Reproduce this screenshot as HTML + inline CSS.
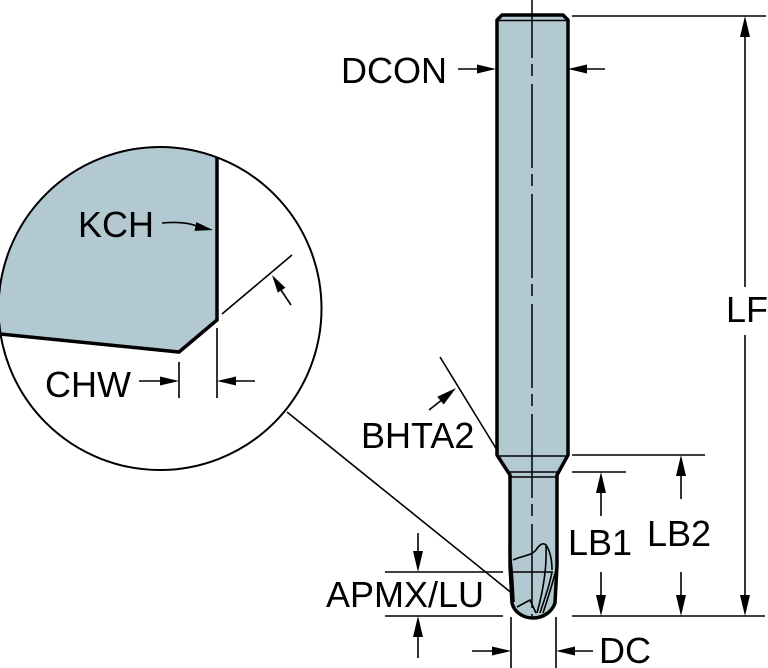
<!DOCTYPE html>
<html>
<head>
<meta charset="utf-8">
<style>
html,body{margin:0;padding:0;background:#fff;}
svg{display:block;}
text{font-family:"Liberation Sans",Arial,sans-serif;font-size:36px;fill:#000;}
</style>
</head>
<body>
<svg width="768" height="668" viewBox="0 0 768 668" xmlns="http://www.w3.org/2000/svg">
<defs>
<clipPath id="cc"><circle cx="160" cy="308.5" r="161.5"/></clipPath>
</defs>
<rect width="768" height="668" fill="#fff"/>

<!-- Detail circle -->
<circle cx="160" cy="308.5" r="161.5" fill="#fff"/>
<g clip-path="url(#cc)">
<polygon points="217,130 217,320 179,352 -10,333 -10,130" fill="#b3c9d1"/>
<polyline points="217,150 217,320 179,352 -10,333" fill="none" stroke="#000" stroke-width="3.5" stroke-linejoin="miter"/>
</g>
<circle cx="160" cy="308.5" r="161.5" fill="none" stroke="#000" stroke-width="2"/>

<!-- KCH -->
<text x="78" y="237">KCH</text>
<path d="M162,223 Q184,221 197,226" fill="none" stroke="#000" stroke-width="1.6"/>
<polygon points="213,230 194.5,230.9 196.3,222.1" fill="#000"/>

<!-- angle line in circle -->
<line x1="222" y1="314" x2="292" y2="255" stroke="#000" stroke-width="1.6"/>
<line x1="291" y1="305" x2="281" y2="290" stroke="#000" stroke-width="1.6"/>
<polygon points="272,275 285.4,287.8 277.8,292.6" fill="#000"/>

<!-- CHW -->
<line x1="179" y1="362" x2="179" y2="398" stroke="#000" stroke-width="1.6"/>
<line x1="217" y1="328" x2="217" y2="398" stroke="#000" stroke-width="1.6"/>
<line x1="139" y1="381" x2="163" y2="381" stroke="#000" stroke-width="1.6"/>
<polygon points="179,381 160,376.5 160,385.5" fill="#000"/>
<line x1="233" y1="381" x2="255" y2="381" stroke="#000" stroke-width="1.6"/>
<polygon points="217,381 236,376.5 236,385.5" fill="#000"/>
<text x="45" y="397">CHW</text>

<!-- leader line -->
<line x1="287" y1="412" x2="534" y2="611" stroke="#000" stroke-width="1.6"/>

<!-- Tool body -->
<path d="M497,20 L502,15 L563,15 L568,20 L568,455 L557,475 L557,565 L555,603 C552,612 543,618 533,618 C523,618 514,612 512,603 L510,565 L510,475 L497,455 Z" fill="#b3c9d1" stroke="#000" stroke-width="3.5" stroke-linejoin="round"/>
<line x1="498" y1="20.5" x2="567" y2="20.5" stroke="#000" stroke-width="1.5"/>
<line x1="498" y1="456" x2="567" y2="456" stroke="#000" stroke-width="1.5"/>
<line x1="509" y1="472" x2="558" y2="472" stroke="#000" stroke-width="1.5"/>
<line x1="510" y1="477" x2="557" y2="477" stroke="#000" stroke-width="1.5"/>

<!-- head flutes -->
<g fill="none" stroke="#000" stroke-width="1.6">
<path d="M513,560 C521,556 531,556 536,550 C539,545 543,542 546,545 C550,551 552,560 552,570"/>
<path d="M546,546 C547,570 542,595 537,613"/>
<path d="M557,566 C553,582 548,598 543,613"/>
<path d="M552,572 C549,588 544,600 540,613"/>
<path d="M509,546 C512,562 513,582 514,602"/>
<line x1="510" y1="572" x2="553" y2="572"/>
<path d="M517,607 L530,600 L536,613"/>
</g>

<!-- centerline -->
<line x1="532" y1="0" x2="532" y2="617" stroke="#000" stroke-width="1.5" stroke-dasharray="84 6 12 8" stroke-dashoffset="26"/>

<!-- DCON -->
<text x="341" y="83">DCON</text>
<line x1="458" y1="69" x2="480" y2="69" stroke="#000" stroke-width="1.6"/>
<polygon points="496,69 477,64.5 477,73.5" fill="#000"/>
<line x1="584" y1="69" x2="605" y2="69" stroke="#000" stroke-width="1.6"/>
<polygon points="568,69 587,64.5 587,73.5" fill="#000"/>

<!-- LF -->
<line x1="572" y1="16" x2="766" y2="16" stroke="#000" stroke-width="1.6"/>
<line x1="745" y1="30" x2="745" y2="287" stroke="#000" stroke-width="1.6"/>
<line x1="745" y1="335" x2="745" y2="600" stroke="#000" stroke-width="1.6"/>
<polygon points="745,16 740,37 750,37" fill="#000"/>
<polygon points="745,616 740,595 750,595" fill="#000"/>
<text x="726" y="322">LF</text>

<!-- LB1 / LB2 -->
<line x1="572" y1="455" x2="705" y2="455" stroke="#000" stroke-width="1.6"/>
<line x1="572" y1="472" x2="626" y2="472" stroke="#000" stroke-width="1.6"/>
<line x1="572" y1="616" x2="765" y2="616" stroke="#000" stroke-width="1.6"/>

<line x1="601" y1="485" x2="601" y2="516" stroke="#000" stroke-width="1.6"/>
<polygon points="601,472 596,493 606,493" fill="#000"/>
<line x1="601" y1="572" x2="601" y2="600" stroke="#000" stroke-width="1.6"/>
<polygon points="601,616 596,595 606,595" fill="#000"/>
<text x="568" y="555">LB1</text>

<line x1="681" y1="468" x2="681" y2="499" stroke="#000" stroke-width="1.6"/>
<polygon points="681,455 676,476 686,476" fill="#000"/>
<line x1="681" y1="572" x2="681" y2="600" stroke="#000" stroke-width="1.6"/>
<polygon points="681,616 676,595 686,595" fill="#000"/>
<text x="647" y="546">LB2</text>

<!-- DC -->
<line x1="511" y1="617" x2="511" y2="668" stroke="#000" stroke-width="1.6"/>
<line x1="556" y1="617" x2="556" y2="668" stroke="#000" stroke-width="1.6"/>
<line x1="472" y1="651" x2="495" y2="651" stroke="#000" stroke-width="1.6"/>
<polygon points="511,651 492,646.5 492,655.5" fill="#000"/>
<line x1="572" y1="651" x2="593" y2="651" stroke="#000" stroke-width="1.6"/>
<polygon points="556,651 575,646.5 575,655.5" fill="#000"/>
<text x="599" y="663">DC</text>

<!-- APMX/LU -->
<line x1="385" y1="572" x2="503" y2="572" stroke="#000" stroke-width="1.6"/>
<line x1="385" y1="616" x2="503" y2="616" stroke="#000" stroke-width="1.6"/>
<line x1="418" y1="533" x2="418" y2="556" stroke="#000" stroke-width="1.6"/>
<polygon points="418,572 413,551 423,551" fill="#000"/>
<line x1="418" y1="632" x2="418" y2="658" stroke="#000" stroke-width="1.6"/>
<polygon points="418,616 413,637 423,637" fill="#000"/>
<text x="326" y="607">APMX/LU</text>

<!-- BHTA2 -->
<line x1="440" y1="357" x2="497" y2="450" stroke="#000" stroke-width="1.6"/>
<line x1="429" y1="410" x2="443" y2="399" stroke="#000" stroke-width="1.6"/>
<polygon points="456,388 443.7,404.5 437.3,396.7" fill="#000"/>
<text x="361" y="448">BHTA2</text>
</svg>
</body>
</html>
